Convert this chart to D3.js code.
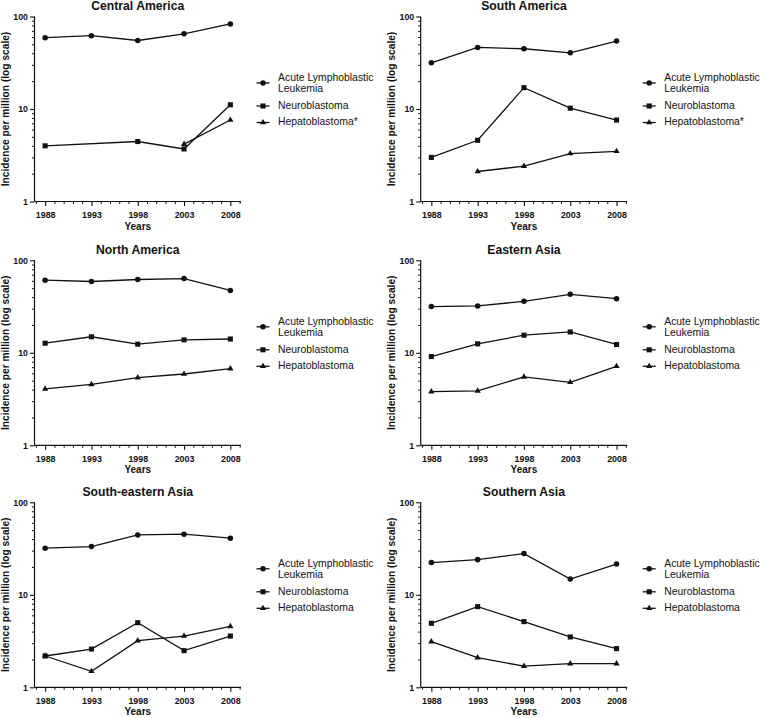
<!DOCTYPE html>
<html>
<head>
<meta charset="utf-8">
<script src="https://cdn.jsdelivr.net/npm/d3@7"></script>
<style>
  html, body { margin: 0; padding: 0; background: #fff; }
  svg { display: block; }
</style>
</head>
<body>
<svg id="chart" width="760" height="718"></svg>
<script>
// ---------------- DATA ----------------
const years = [1988, 1993, 1998, 2003, 2008];
const regions = ["Central America", "South America", "North America", "Eastern Asia", "South-eastern Asia", "Southern Asia"];
const seriesNames = ["Acute Lymphoblastic Leukemia", "Neuroblastoma", "Hepatoblastoma"];
const hepatoLegendLabels = ["Hepatoblastoma*", "Hepatoblastoma*", "Hepatoblastoma", "Hepatoblastoma", "Hepatoblastoma", "Hepatoblastoma"];

const allValues = [
  [59, 62, 55, 65, 83],
  [31.6, 46.3, 44.8, 40.5, 54.2],
  [61, 59, 62, 63.5, 47.2],
  [31.6, 32.1, 36, 42.9, 38.5],
  [31.9, 33.2, 44.4, 45.2, 40.9],
  [22.3, 24, 27.9, 14.8, 21.5]
];
const neuroValues = [
  [4.0, null, 4.45, 3.7, 11.1],
  [3.0, 4.59, 17.0, 10.2, 7.6],
  [12.7, 14.9, 12.4, 13.8, 14.1],
  [9.1, 12.5, 15.5, 16.8, 12.3],
  [2.18, 2.59, 4.99, 2.49, 3.58],
  [4.92, 7.45, 5.13, 3.5, 2.62]
];
const hepatoValues = [
  [null, null, null, 4.17, 7.6],
  [null, 2.11, 2.41, 3.3, 3.49],
  [4.07, 4.56, 5.38, 5.9, 6.73],
  [3.8, 3.87, 5.48, 4.8, 7.15],
  [2.18, 1.49, 3.19, 3.58, 4.55],
  [3.12, 2.09, 1.69, 1.80, 1.80]
];
const yTickValues = [1, 10, 100];
const yMinorTicks = [2, 3, 4, 5, 6, 7, 8, 9, 20, 30, 40, 50, 60, 70, 80, 90];
const xMinorTicks = d3.range(1987, 2010);

// ---------------- LAYOUT ----------------
const svg = d3.select("#chart");
const FONT = "'Liberation Sans', Arial, Helvetica, sans-serif";
const colX = [34.5, 420.7];
const rowY = [16.5, 260.3, 502.3];
const plotW = 206.5;
const plotH = 185;

const x = d3.scaleLinear().domain([1986.85, 2009.15]).range([0, plotW]);
const y = d3.scaleLog().domain([1, 100]).range([plotH, 0]);

const markerTypes = [d3.symbolCircle, d3.symbolSquare, d3.symbolTriangle];
const markerSizes = [24, 26, 17];

const line = d3.line()
  .x(d => x(d.year))
  .y(d => y(d.value));

regions.forEach((region, i) => {
  const col = i % 2, row = Math.floor(i / 2);
  const g = svg.append("g").attr("transform", `translate(${colX[col]},${rowY[row]})`);

  // Title
  g.append("text")
    .attr("x", plotW / 2)
    .attr("y", -9.5)
    .attr("text-anchor", "middle")
    .attr("dominant-baseline", "middle")
    .attr("font-family", FONT)
    .attr("font-weight", "bold")
    .attr("font-size", 12.2)
    .attr("fill", "#111")
    .text(region);

  // Y axis (major)
  const yAxis = d3.axisLeft(y).tickValues(yTickValues).tickFormat(d3.format("d")).tickSize(4.5).tickPadding(2);
  const ya = g.append("g").call(yAxis);
  ya.select(".domain").attr("stroke", "#111").attr("stroke-width", 1.2).attr("d", `M0,0V${plotH}`);
  ya.selectAll(".tick line").attr("stroke", "#111").attr("stroke-width", 1.1);
  ya.selectAll(".tick text").attr("font-family", FONT).attr("font-weight", "bold").attr("font-size", 8.8).attr("fill", "#111");
  // Y minor ticks
  const ym = g.append("g").call(d3.axisLeft(y).tickValues(yMinorTicks).tickFormat("").tickSize(2.5));
  ym.select(".domain").remove();
  ym.selectAll(".tick line").attr("stroke", "#111").attr("stroke-width", 1);

  // X axis (major)
  const xAxis = d3.axisBottom(x).tickValues(years).tickFormat(d3.format("d")).tickSize(4.5).tickPadding(5.5);
  const xa = g.append("g").attr("transform", `translate(0,${plotH})`).call(xAxis);
  xa.select(".domain").attr("stroke", "#111").attr("stroke-width", 1.2).attr("d", `M0,0H${plotW}`);
  xa.selectAll(".tick line").attr("stroke", "#111").attr("stroke-width", 1.1);
  xa.selectAll(".tick text").attr("font-family", FONT).attr("font-weight", "bold").attr("font-size", 8.9).attr("fill", "#111");
  // X minor ticks
  const xm = g.append("g").attr("transform", `translate(0,${plotH})`)
    .call(d3.axisBottom(x).tickValues(xMinorTicks.filter(v => !years.includes(v))).tickFormat("").tickSize(2.5));
  xm.select(".domain").remove();
  xm.selectAll(".tick line").attr("stroke", "#111").attr("stroke-width", 1);

  // Axis labels
  g.append("text")
    .attr("x", plotW / 2)
    .attr("y", plotH + 25.5)
    .attr("text-anchor", "middle")
    .attr("dominant-baseline", "middle")
    .attr("font-family", FONT)
    .attr("font-weight", "bold")
    .attr("font-size", 10)
    .attr("fill", "#111")
    .text("Years");

  g.append("text")
    .attr("transform", `translate(-28.5,${plotH / 2}) rotate(-90)`)
    .attr("text-anchor", "middle")
    .attr("dominant-baseline", "middle")
    .attr("font-family", FONT)
    .attr("font-weight", "bold")
    .attr("font-size", 10.2)
    .attr("fill", "#111")
    .text("Incidence per million (log scale)");

  // Series
  const seriesData = [allValues[i], neuroValues[i], hepatoValues[i]];
  seriesData.forEach((vals, s) => {
    const pts = years.map((yr, k) => ({ year: yr, value: vals[k] })).filter(d => d.value != null);
    g.append("path")
      .datum(pts)
      .attr("d", line)
      .attr("fill", "none")
      .attr("stroke", "#111")
      .attr("stroke-width", 1.3);
    g.selectAll(null)
      .data(pts)
      .enter()
      .append("path")
      .attr("transform", d => `translate(${x(d.year)},${y(d.value)})`)
      .attr("d", d3.symbol().type(markerTypes[s]).size(markerSizes[s]))
      .attr("fill", "#111");
  });

  // Legend
  const lx = 228.5;
  const legendRows = [
    { s: 0, my: 66.5, lines: ["Acute Lymphoblastic", "Leukemia"], ty: 61.5 },
    { s: 1, my: 89.5, lines: ["Neuroblastoma"], ty: 89.5 },
    { s: 2, my: 106, lines: [hepatoLegendLabels[i]], ty: 106 }
  ];
  legendRows.forEach(r => {
    const lg = g.append("g");
    lg.append("line")
      .attr("x1", lx - 6.5).attr("x2", lx + 6.5)
      .attr("y1", r.my).attr("y2", r.my)
      .attr("stroke", "#111").attr("stroke-width", 1.3);
    lg.append("path")
      .attr("transform", `translate(${lx},${r.my})`)
      .attr("d", d3.symbol().type(markerTypes[r.s]).size(markerSizes[r.s]))
      .attr("fill", "#111");
    r.lines.forEach((t, k) => {
      lg.append("text")
        .attr("x", lx + 15)
        .attr("y", r.ty + k * 11.5)
        .attr("dominant-baseline", "middle")
        .attr("font-family", FONT)
        .attr("font-size", 10.4)
        .attr("fill", "#111")
        .text(t);
    });
  });
});
</script>
</body>
</html>
